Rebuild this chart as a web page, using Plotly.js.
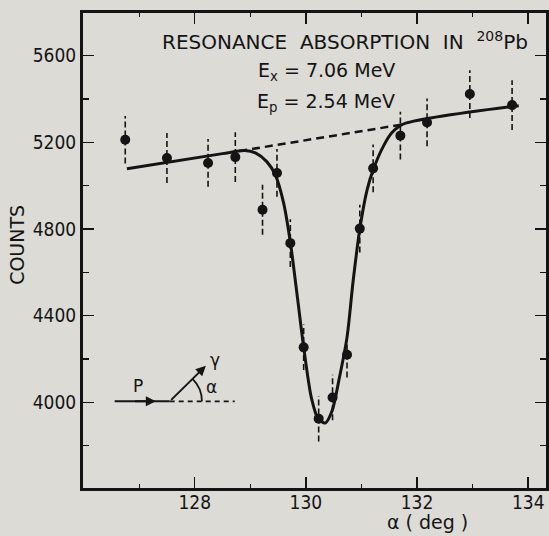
<!DOCTYPE html>
<html>
<head>
<meta charset="utf-8">
<script src="https://cdn.plot.ly/plotly-3.0.1.min.js"></script>
<style>html,body{margin:0;padding:0;background:rgb(221,219,214);}#chart{width:549px;height:536px;}</style>
</head>
<body>
<div id="chart"></div>
<script>
// Measured data points (angle in degrees, counts, error)
const angle  = [126.75, 127.50, 128.24, 128.73, 129.22, 129.48, 129.72, 129.96, 130.23, 130.48, 130.74, 130.97, 131.21, 131.70, 132.18, 132.95, 133.71];
const counts = [5212,   5128,   5105,   5132,   4889,   5059,   4735,   4254,   3925,   4023,   4220,   4802,   5080,   5231,   5292,   5423,   5372];
const errs   = [110,    115,    110,    115,    115,    110,    110,    105,    105,    105,    105,    110,    110,    110,    110,    110,    115];

// Fitted curve
const fitX = [126.78, 128.50, 128.90, 129.10, 129.30, 129.45, 129.60, 129.72, 129.85, 129.96, 130.10, 130.22, 130.35, 130.47, 130.60, 130.74, 130.85, 130.97, 131.10, 131.22, 131.40, 131.55, 131.73, 133.83];
const fitY = [5078,   5148,   5162,   5150,   5110,   5050,   4920,   4740,   4480,   4255,   4020,   3925,   3905,   3960,   4110,   4300,   4560,   4800,   4980,   5080,   5185,   5245,   5282,   5369];

// Dashed background under the dip
const bgX = [128.80, 131.73];
const bgY = [5160, 5282];

const xTicks = [128, 130, 132, 134];
const yTicks = [4000, 4400, 4800, 5200, 5600];

// error bar segments built from the arrays
const ebX = [], ebY = [];
angle.forEach((a, i) => { ebX.push(a, a, null); ebY.push(counts[i] - errs[i], counts[i] + errs[i], null); });

const ink = '#141414';
const tickFont = {family: 'Liberation Sans Narrow, DejaVu Sans Condensed, Arial Narrow, sans-serif', size: 19, color: ink};
const txtFont = {family: 'DejaVu Sans, sans-serif', size: 19, color: ink};
const ttlFont = {family: 'DejaVu Sans, sans-serif', size: 20, color: ink};

const traces = [
  {x: ebX, y: ebY, mode: 'lines', line: {color: ink, width: 1.6, dash: '6px,3px'}, hoverinfo: 'skip', showlegend: false},
  {x: bgX, y: bgY, mode: 'lines', line: {color: ink, width: 2.5, dash: '8px,5px'}, showlegend: false},
  {x: fitX, y: fitY, mode: 'lines', line: {color: ink, width: 3, shape: 'spline', smoothing: 0.8}, showlegend: false},
  {x: angle, y: counts, mode: 'markers', marker: {color: ink, size: 10, symbol: 'circle'}, showlegend: false}
];

const layout = {
  width: 549, height: 536,
  margin: {l: 83, r: 3, t: 13, b: 48, pad: 0},
  paper_bgcolor: 'rgb(221,219,214)',
  plot_bgcolor: 'rgb(221,219,214)',
  showlegend: false,
  xaxis: {
    range: [125.99, 134.32], tickvals: xTicks, ticktext: xTicks.map(String),
    ticks: 'inside', ticklen: 11, tickwidth: 1.5, tickcolor: ink,
    minor: {dtick: 1, tick0: 128, ticks: 'inside', ticklen: 4, tickwidth: 1.2, tickcolor: ink},
    showline: true, linewidth: 3, linecolor: ink, mirror: 'ticks',
    showgrid: false, zeroline: false, tickfont: tickFont, ticklabelstandoff: -5
  },
  yaxis: {
    range: [3605, 5797], tickvals: yTicks, ticktext: yTicks.map(String),
    ticks: 'inside', ticklen: 11, tickwidth: 1.5, tickcolor: ink,
    minor: {dtick: 200, tick0: 4000, ticks: 'inside', ticklen: 6, tickwidth: 1.2, tickcolor: ink},
    showline: true, linewidth: 3, linecolor: ink, mirror: 'ticks',
    showgrid: false, zeroline: false, tickfont: tickFont
  },
  shapes: [
    {type: 'line', xref: 'x', yref: 'y', x0: 126.56, y0: 4005, x1: 127.55, y1: 4005, line: {color: ink, width: 2}},
    {type: 'line', xref: 'x', yref: 'y', x0: 127.55, y0: 4005, x1: 128.72, y1: 4005, line: {color: ink, width: 1.8, dash: '5px,4px'}},
    {type: 'path', xref: 'x', yref: 'y', path: 'M128.13,4005 Q128.13,4066 127.96,4109', line: {color: ink, width: 1.8}}
  ],
  annotations: [
    {xref: 'paper', yref: 'paper', x: 0.5667, y: 0.9417, text: 'RESONANCE\u00a0 ABSORPTION\u00a0 IN\u00a0 <sup>208</sup>Pb', showarrow: false, font: ttlFont, xanchor: 'center', yanchor: 'middle'},
    {xref: 'paper', yref: 'paper', x: 0.5267, y: 0.8764, text: 'E<sub>x</sub> = 7.06 MeV', showarrow: false, font: txtFont, xanchor: 'center', yanchor: 'middle'},
    {xref: 'paper', yref: 'paper', x: 0.5245, y: 0.8112, text: 'E<sub>p</sub> = 2.54 MeV', showarrow: false, font: txtFont, xanchor: 'center', yanchor: 'middle'},
    {xref: 'paper', yref: 'paper', x: -0.1422, y: 0.5122, text: 'COUNTS', textangle: -90, showarrow: false, font: txtFont, xanchor: 'center', yanchor: 'middle'},
    {xref: 'paper', yref: 'paper', x: 0.745, y: -0.071, text: '\u03b1 ( deg )', showarrow: false, font: txtFont, xanchor: 'center', yanchor: 'middle'},
    // inset diagram
    {xref: 'x', yref: 'y', axref: 'x', ayref: 'y', x: 127.30, y: 4005, ax: 126.9, ay: 4005, text: '', showarrow: true, arrowhead: 2, arrowsize: 1, arrowwidth: 2, arrowcolor: ink},
    {xref: 'x', yref: 'y', axref: 'x', ayref: 'y', x: 128.20, y: 4169, ax: 127.55, ay: 4005, text: '', showarrow: true, arrowhead: 2, arrowsize: 1, arrowwidth: 2, arrowcolor: ink},
    {xref: 'x', yref: 'y', x: 126.98, y: 4075, text: 'P', showarrow: false, font: {family: 'DejaVu Sans, sans-serif', size: 17, color: ink}},
    {xref: 'x', yref: 'y', x: 128.37, y: 4197, text: '\u03b3', showarrow: false, font: {family: 'DejaVu Sans, sans-serif', size: 17, color: ink}},
    {xref: 'x', yref: 'y', x: 128.31, y: 4072, text: '\u03b1', showarrow: false, font: {family: 'DejaVu Sans, sans-serif', size: 17, color: ink}}
  ]
};

Plotly.newPlot('chart', traces, layout, {staticPlot: true, displayModeBar: false});
</script>
</body>
</html>
